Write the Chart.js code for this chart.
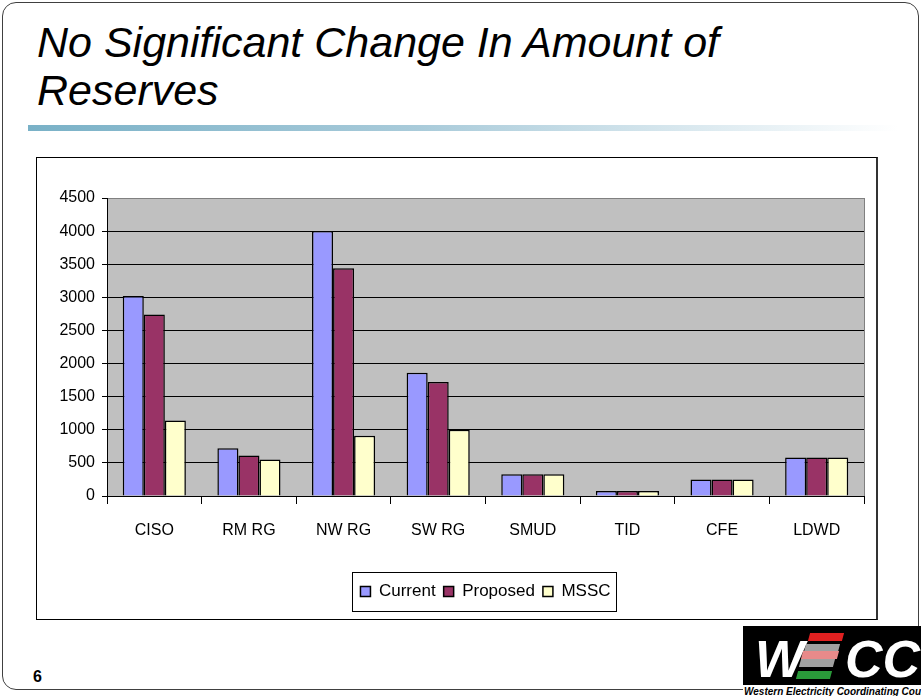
<!DOCTYPE html>
<html>
<head>
<meta charset="utf-8">
<script src="https://cdn.jsdelivr.net/npm/chart.js@4/dist/chart.umd.min.js"></script>
<style>
  html, body { margin: 0; padding: 0; background: #fff; }
  body { width: 921px; height: 696px; position: relative; overflow: hidden; font-family: "Liberation Sans", Arial, sans-serif; }
  #slide { position: absolute; left: 2px; top: 2px; width: 915px; height: 686px; border: 1.5px solid #404040; border-radius: 14px; }
  #title { position: absolute; left: 37px; top: 18px; font-size: 43px; font-style: italic; line-height: 48px; color: #000; }
  #rule { position: absolute; left: 28px; top: 125px; width: 870px; height: 6px; background: linear-gradient(to right, #79b1c7, #a9cbda 45%, #ffffff); }
  #box { position: absolute; left: 36px; top: 157px; width: 839px; height: 461px; border: 1px solid #000; border-right: 2px solid #333; background: #fff; }
  #chartWrap { position: absolute; left: 37px; top: 158px; width: 839px; height: 461px; }
  #num { position: absolute; left: 33px; top: 668px; font-size: 16px; font-weight: bold; color: #000; }
  #logo { position: absolute; left: 743px; top: 626px; width: 178px; height: 70px; background: #fff; }
  #logo .blk { position: absolute; left: 0; top: 0; width: 178px; height: 59px; background: #000; }
  #logo .w { position: absolute; left: 12px; top: 3px; font: italic bold 52px "Liberation Sans", Arial; color: #fff; }
  #logo .cc { position: absolute; left: 102px; top: 3px; font: italic bold 52px "Liberation Sans", Arial; color: #fff; }
  #logo .s { position: absolute; height: 8px; transform: skewX(-15deg); }
  #logo .cap { position: absolute; left: 1px; top: 60px; font: italic bold 10px "Liberation Sans", Arial; color: #000; white-space: nowrap; }
</style>
</head>
<body>
<div id="slide"></div>
<div id="title">No Significant Change In Amount of<br>Reserves</div>
<div id="rule"></div>
<div id="box"></div>
<div id="chartWrap"><canvas id="myChart" width="839" height="461"></canvas></div>
<div id="num">6</div>
<div id="logo">
  <div class="blk"></div>
  <div class="w">W</div>
  <div class="s" style="left:66px;top:7px;width:34px;background:#e02020"></div>
  <div class="s" style="left:62px;top:18px;width:34px;background:#a0a0a0"></div>
  <div class="s" style="left:59px;top:25px;width:36px;background:#e88a8a"></div>
  <div class="s" style="left:57px;top:33px;width:34px;background:#a0a0a0"></div>
  <div class="s" style="left:54px;top:45px;width:34px;background:#2a9a3a"></div>
  <div class="cc">CC</div>
  <div class="cap">Western Electricity Coordinating Council</div>
</div>

<script>
// data
var categories = ["CISO", "RM RG", "NW RG", "SW RG", "SMUD", "TID", "CFE", "LDWD"];
var current  = [3020, 720, 4000, 1860, 330, 75, 250, 580];
var proposed = [2740, 610, 3440, 1720, 330, 75, 250, 580];
var mssc     = [1140, 550, 910, 1000, 330, 75, 250, 580];
var yTicks = [0, 500, 1000, 1500, 2000, 2500, 3000, 3500, 4000, 4500];

var fontFam = "'Liberation Sans', Arial, sans-serif";

// grey plot background, grey right edge, legend frame
var plotBg = {
  id: 'plotBg',
  afterLayout: function(chart) {
    // the legend sits a bit right of centre in the original
    var lg = chart.legend;
    lg.left += 35;
    lg.right += 35;
  },
  beforeDraw: function(chart) {
    var a = chart.chartArea, ctx = chart.ctx;
    ctx.save();
    ctx.fillStyle = '#c0c0c0';
    ctx.fillRect(a.left, a.top, a.right - a.left, a.bottom - a.top);
    ctx.restore();
  },
  afterDraw: function(chart) {
    var a = chart.chartArea, ctx = chart.ctx;
    ctx.save();
    ctx.strokeStyle = '#808080';
    ctx.lineWidth = 1;
    ctx.beginPath();
    ctx.moveTo(a.right + 0.5, a.top);
    ctx.lineTo(a.right + 0.5, a.bottom);
    ctx.stroke();
    var hb = chart.legend.legendHitBoxes;
    if (hb && hb.length) {
      var l = hb[0].left, r = hb[hb.length - 1].left + hb[hb.length - 1].width;
      var t = hb[0].top;
      ctx.strokeStyle = '#000';
      ctx.strokeRect(Math.round(l - 8) + 0.5, Math.round(t - 11) + 0.5, Math.round(r - l + 14), 39);
    }
    ctx.restore();
  }
};

const ctx = document.getElementById('myChart').getContext('2d');
const myChart = new Chart(ctx, {
  type: 'bar',
  data: {
    labels: categories,
    datasets: [
      { label: 'Current', data: current, backgroundColor: '#9999ff' },
      { label: 'Proposed', data: proposed, backgroundColor: '#993366' },
      { label: 'MSSC', data: mssc, backgroundColor: '#ffffcc' }
    ]
  },
  options: {
    responsive: false,
    animation: false,
    events: [],
    datasets: {
      bar: { borderColor: '#000', borderWidth: 1.5, barPercentage: 1, categoryPercentage: 0.667 }
    },
    layout: { padding: { top: 40, right: 12, left: 0, bottom: 9 } },
    scales: {
      x: {
        offset: true,
        grid: { display: true, drawOnChartArea: false, color: '#000', tickLength: 8, offset: true },
        border: { color: '#000', width: 1 },
        ticks: { color: '#000', font: { family: fontFam, size: 16 }, padding: 17, maxRotation: 0 },
        afterFit: function(s) { s.height = 79; }
      },
      y: {
        min: 0,
        max: 4500,
        afterBuildTicks: function(s) { s.ticks = yTicks.map(function(v) { return { value: v }; }); },
        grid: {
          color: function(c) { return c.tick && c.tick.value === 4500 ? '#808080' : '#000'; },
          tickColor: '#000',
          tickLength: 5
        },
        border: { color: '#000', width: 1 },
        ticks: {
          color: '#000', font: { family: fontFam, size: 16 }, padding: 7,
          callback: function(v) { return String(v); }
        },
        afterFit: function(s) { s.width = 70; }
      }
    },
    plugins: {
      legend: {
        position: 'bottom',
        labels: { boxWidth: 10, boxHeight: 10, color: '#000', font: { family: fontFam, size: 17 }, padding: 8 }
      },
      tooltip: { enabled: false },
      title: { display: false }
    }
  },
  plugins: [plotBg]
});
</script>
</body>
</html>
